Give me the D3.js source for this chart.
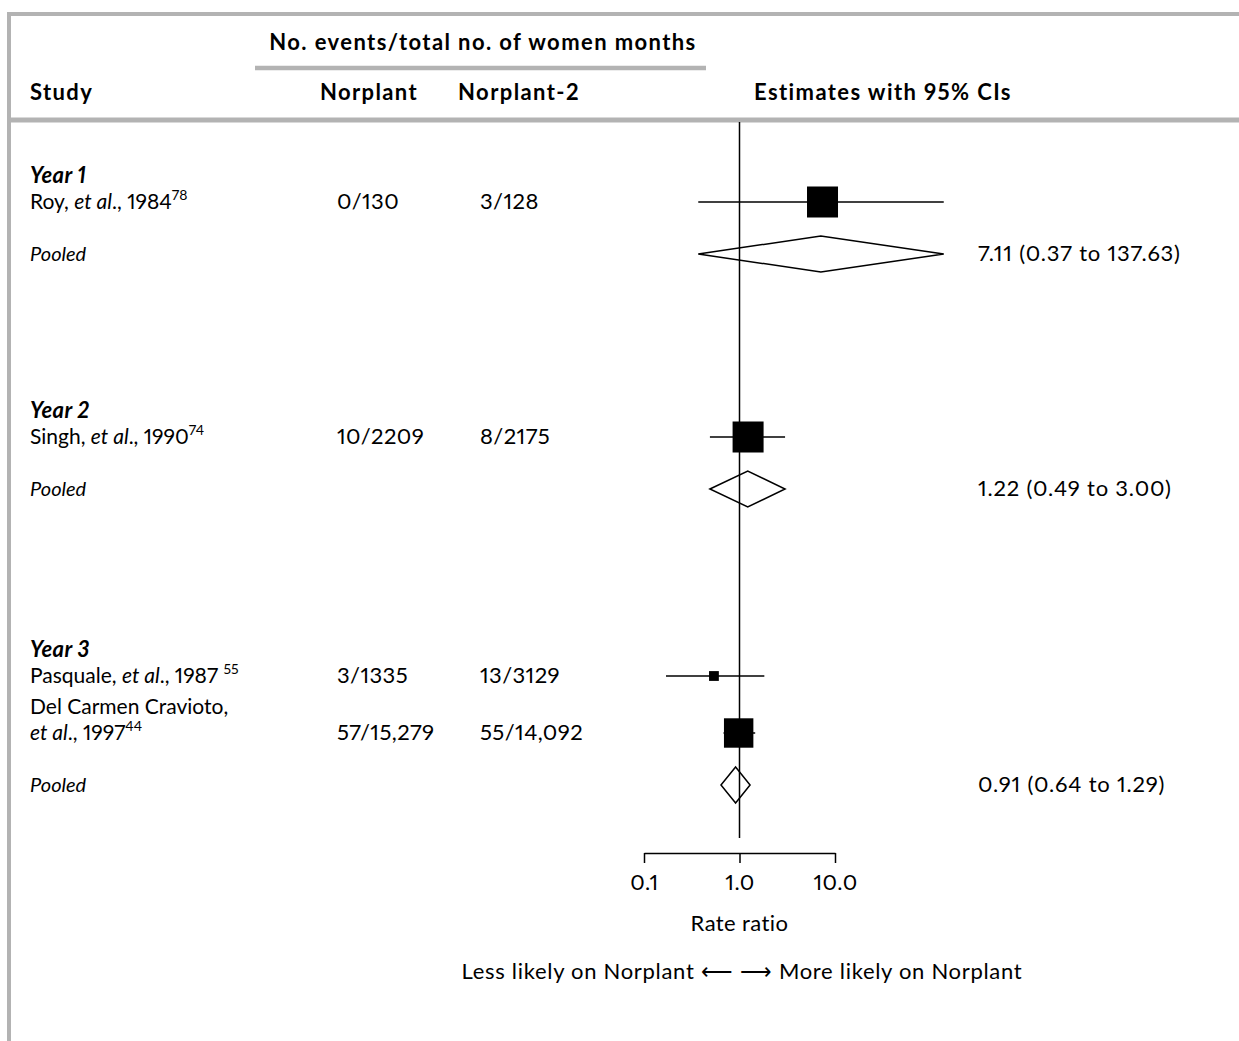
<!DOCTYPE html>
<html>
<head>
<meta charset="utf-8">
<script src="https://cdn.jsdelivr.net/npm/d3@7"></script>
<style>
  body { margin: 0; background: #fff; }
  svg text { font-family: Lato, "Noto Sans", sans-serif; fill: #000;
             font-variant-numeric: proportional-nums; letter-spacing: 0.4px; }
  svg text.hd { font-weight: 700; letter-spacing: 1.4px; }
  svg text.study { letter-spacing: 0px; }
</style>
</head>
<body>
<div id="chart"></div>
<script>
// groups and studies
var groups = ["Year 1", "Year 2", "Year 3"];
var studyNames = ["Roy", "Singh", "Pasquale", "Del Carmen Cravioto"];
var studyYears = ["1984", "1990", "1987", "1997"];
var studyRefs = ["78", "74", "55", "44"];
var studyGroup = [0, 1, 2, 2];
var norplant = ["0/130", "10/2209", "3/1335", "57/15,279"];
var norplant2 = ["3/128", "8/2175", "13/3129", "55/14,092"];
var studyRR = [7.4, 1.23, 0.54, 0.98];
var studyLo = [0.37, 0.49, 0.17, 0.68];
var studyHi = [137.63, 3.00, 1.82, 1.46];
var studyWeight = [100, 100, 10, 90];

// pooled estimates per group
var pooledRR = [7.11, 1.22, 0.91];
var pooledLo = [0.37, 0.49, 0.64];
var pooledHi = [137.63, 3.00, 1.29];
var pooledLabel = ["7.11 (0.37 to 137.63)", "1.22 (0.49 to 3.00)", "0.91 (0.64 to 1.29)"];

// axis ticks
var tickValues = [0.1, 1, 10];
var tickLabels = ["0.1", "1.0", "10.0"];

var W = 1239, H = 1041;
var grey = "#b3b3b3";
var fs = 22;

var svg = d3.select("#chart").append("svg")
    .attr("width", W).attr("height", H);

// frame lines
svg.append("line").attr("x1", 9).attr("x2", W).attr("y1", 14).attr("y2", 14)
    .attr("stroke", grey).attr("stroke-width", 4);
svg.append("line").attr("x1", 9).attr("x2", 9).attr("y1", 12).attr("y2", H)
    .attr("stroke", grey).attr("stroke-width", 4);
svg.append("line").attr("x1", 9).attr("x2", W).attr("y1", 120).attr("y2", 120)
    .attr("stroke", grey).attr("stroke-width", 5);
svg.append("line").attr("x1", 255).attr("x2", 706).attr("y1", 68).attr("y2", 68)
    .attr("stroke", grey).attr("stroke-width", 4.5);

// header
function header(tx, ty, anchor, s) {
    svg.append("text").attr("class", "hd").attr("x", tx).attr("y", ty)
        .attr("text-anchor", anchor).style("font-size", fs + "px").text(s);
}
header(483, 50, "middle", "No. events/total no. of women months");
header(30, 100, "start", "Study");
header(369, 100, "middle", "Norplant");
header(519, 100, "middle", "Norplant-2");
header(883, 100, "middle", "Estimates with 95% CIs");

// scales
var x = d3.scaleLog().domain([0.1, 10]).range([644, 835]);
var size = d3.scaleSqrt().domain([0, 100]).range([0, 31]);

// row layout: group label, study rows, pooled row
var groupTop = [176, 411, 650];
var rowGap = 26;
var studyY = [];
var pooledY = [];
var lineY = [];
groups.forEach(function(g, gi) {
    var y = groupTop[gi] + rowGap;
    studyGroup.forEach(function(sg, si) {
        if (sg !== gi) return;
        if (studyNames[si].length > 15) {
            lineY[si] = y + 5;
            y += 31;
        }
        studyY[si] = y;
        y += rowGap;
    });
    pooledY[gi] = y + 26;
});

// vertical line of no effect
svg.append("line")
    .attr("x1", x(1)).attr("x2", x(1))
    .attr("y1", 122).attr("y2", 838)
    .attr("stroke", "#000").attr("stroke-width", 1.5);

// group labels
svg.selectAll(".glabel").data(groups).enter().append("text")
    .attr("class", "glabel")
    .attr("x", 30).attr("y", function(d, i) { return groupTop[i] + 7; })
    .style("font-weight", 700).style("font-style", "italic")
    .style("font-size", fs + "px")
    .text(function(d) { return d; });

// study labels
var sfs = 21;
studyNames.forEach(function(n, i) {
    var t;
    if (lineY[i] !== undefined) {
        svg.append("text").attr("class", "study").attr("x", 30).attr("y", lineY[i] + 7)
            .style("font-size", sfs + "px").text(n + ",");
        t = svg.append("text").attr("class", "study").attr("x", 30).attr("y", studyY[i] + 7)
            .style("font-size", sfs + "px");
    } else {
        t = svg.append("text").attr("class", "study").attr("x", 30).attr("y", studyY[i] + 7)
            .style("font-size", sfs + "px");
        t.append("tspan").text(n + ", ");
    }
    t.append("tspan").style("font-style", "italic").text("et al");
    t.append("tspan").text("., " + studyYears[i] + (i === 2 ? " " : ""));
    t.append("tspan").attr("dy", -9).style("font-size", "14px").text(studyRefs[i]);
});

// event columns
svg.selectAll(".c1").data(norplant).enter().append("text")
    .attr("x", 337).attr("y", function(d, i) { return studyY[i] + 7; })
    .style("font-size", fs + "px")
    .text(function(d) { return d; });
svg.selectAll(".c2").data(norplant2).enter().append("text")
    .attr("x", 480).attr("y", function(d, i) { return studyY[i] + 7; })
    .style("font-size", fs + "px")
    .text(function(d) { return d; });

// study CIs and squares
svg.selectAll(".ci").data(studyRR).enter().append("line")
    .attr("x1", function(d, i) { return x(studyLo[i]); })
    .attr("x2", function(d, i) { return x(studyHi[i]); })
    .attr("y1", function(d, i) { return studyY[i]; })
    .attr("y2", function(d, i) { return studyY[i]; })
    .attr("stroke", "#000").attr("stroke-width", 1.5);
svg.selectAll(".sq").data(studyRR).enter().append("rect")
    .attr("x", function(d, i) { return x(d) - size(studyWeight[i]) / 2; })
    .attr("y", function(d, i) { return studyY[i] - size(studyWeight[i]) / 2; })
    .attr("width", function(d, i) { return size(studyWeight[i]); })
    .attr("height", function(d, i) { return size(studyWeight[i]); })
    .attr("fill", "#000");

// pooled rows
var dh = 18;
svg.selectAll(".pl").data(groups).enter().append("text")
    .attr("x", 30).attr("y", function(d, i) { return pooledY[i] + 7; })
    .style("font-style", "italic").style("font-size", "20px")
    .style("letter-spacing", "0px")
    .text("Pooled");
svg.selectAll(".dia").data(pooledRR).enter().append("path")
    .attr("d", function(d, i) {
        var y = pooledY[i];
        return "M" + x(pooledLo[i]) + "," + y +
               "L" + x(d) + "," + (y - dh) +
               "L" + x(pooledHi[i]) + "," + y +
               "L" + x(d) + "," + (y + dh) + "Z";
    })
    .attr("fill", "none").attr("stroke", "#000").attr("stroke-width", 1.5);
svg.selectAll(".est").data(pooledLabel).enter().append("text")
    .attr("x", 978).attr("y", function(d, i) { return pooledY[i] + 7; })
    .style("font-size", fs + "px").style("letter-spacing", "0.8px")
    .text(function(d) { return d; });

// x axis
var axis = d3.axisBottom(x).tickValues(tickValues)
    .tickFormat(function(d, i) { return tickLabels[i]; })
    .tickSize(10).tickSizeOuter(0);
var gAxis = svg.append("g").attr("transform", "translate(0,853)").call(axis);
gAxis.select(".domain").attr("stroke-width", 1.5);
gAxis.selectAll(".tick line").attr("stroke-width", 1.5);
gAxis.selectAll(".tick text").attr("y", 37).attr("dy", null)
    .style("font-size", fs + "px").style("font-family", "Lato, sans-serif");

svg.append("text").attr("x", x(1)).attr("y", 931).attr("text-anchor", "middle")
    .style("font-size", fs + "px").text("Rate ratio");
svg.append("text").attr("x", 742).attr("y", 979).attr("text-anchor", "middle")
    .style("font-size", fs + "px").style("letter-spacing", "0.7px")
    .text("Less likely on Norplant \u27F5  \u27F6 More likely on Norplant");
</script>
</body>
</html>
